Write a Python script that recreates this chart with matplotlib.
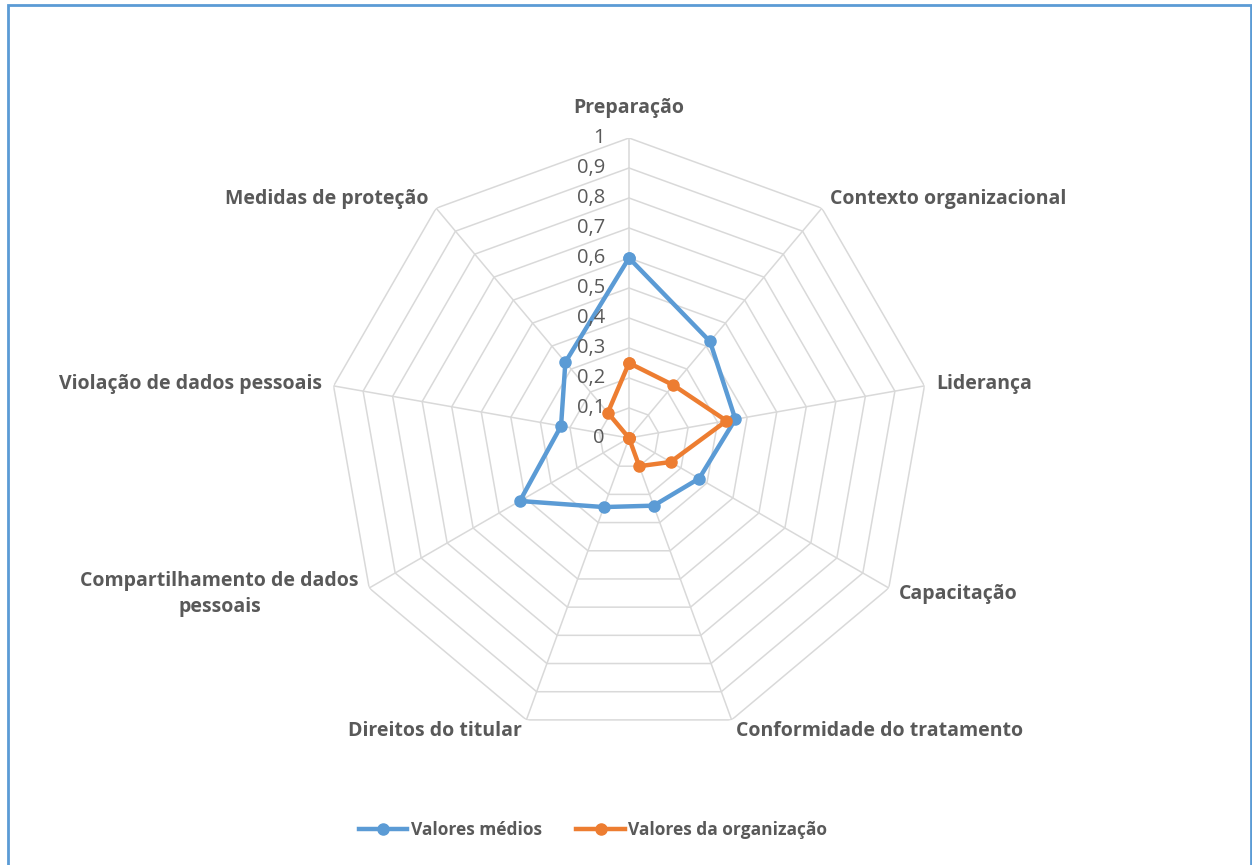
import numpy as np
import matplotlib.pyplot as plt
from matplotlib.patches import Rectangle

categories = ['Preparação', 'Contexto organizacional', 'Liderança', 'Capacitação',
              'Conformidade do tratamento', 'Direitos do titular',
              'Compartilhamento de dados\npessoais', 'Violação de dados pessoais',
              'Medidas de proteção']
valores_medios = [0.60, 0.42, 0.36, 0.27, 0.24, 0.245, 0.42, 0.23, 0.33]
valores_org = [0.25, 0.23, 0.33, 0.16, 0.10, 0.0, 0.0, 0.0, 0.11]
levels = [0, 0.1, 0.2, 0.3, 0.4, 0.5, 0.6, 0.7, 0.8, 0.9, 1.0]
level_labels = ['0', '0,1', '0,2', '0,3', '0,4', '0,5', '0,6', '0,7', '0,8', '0,9', '1']

BLUE = '#5b9bd5'
ORANGE = '#ed7d31'
GRID = '#d9d9d9'
TXT = '#595959'

plt.rcParams['font.family'] = ['Open Sans', 'DejaVu Sans']

fig = plt.figure(figsize=(12.52, 8.65), dpi=100)
ax = fig.add_axes([329 / 1252, 127 / 865, 600 / 1252, 600 / 865], projection='polar')
ax.set_theta_zero_location('N')
ax.set_theta_direction(-1)
ax.set_ylim(0, 1)
ax.grid(False)
ax.set_xticks([])
ax.set_yticks([])
ax.spines['polar'].set_visible(False)
ax.patch.set_alpha(0)

n = len(categories)
theta = np.linspace(0, 2 * np.pi, n, endpoint=False)
theta_c = np.append(theta, theta[0])

# polygon grid
for lv in levels[1:]:
    ax.plot(theta_c, [lv] * (n + 1), color=GRID, lw=1.1, zorder=1)
for t in theta:
    ax.plot([t, t], [0, 1], color=GRID, lw=1.1, zorder=1)

# radial tick labels
for lv, lab in zip(levels, level_labels):
    ax.annotate(lab, xy=(0, lv), xytext=(-24, 0), textcoords='offset pixels',
                ha='right', va='center', fontsize=14.5, color=TXT, zorder=5)

# series
vm = valores_medios + valores_medios[:1]
vo = valores_org + valores_org[:1]
ax.plot(theta_c, vm, color=BLUE, lw=3.2, marker='o', ms=8, zorder=3,
        label='Valores médios', solid_joinstyle='round')
ax.plot(theta_c, vo, color=ORANGE, lw=3.2, marker='o', ms=8, zorder=4,
        label='Valores da organização', solid_joinstyle='round')

# category labels
for t, cat in zip(theta, categories):
    deg = np.degrees(t)
    if deg < 1:
        ax.text(t, 1.1, cat, ha='center', va='center', fontsize=14,
                fontweight='bold', color=TXT)
    else:
        ha = 'left' if deg < 180 else 'right'
        ax.text(t, 1.04, cat, ha=ha, va='center', fontsize=14,
                fontweight='bold', color=TXT, multialignment='center',
                linespacing=1.45)

fig.legend(loc='center', bbox_to_anchor=(593 / 1252, 1 - 830 / 865), ncol=2, frameon=False,
           prop={'weight': 'bold', 'size': 12.5}, labelcolor=TXT,
           handlelength=2.8, columnspacing=2.0, handletextpad=0.2)

fig.patches.append(Rectangle((8 / 1252, -0.05), 1243 / 1252, 1 - 5 / 865 + 0.05,
                             transform=fig.transFigure, fill=False,
                             edgecolor=BLUE, lw=2))

fig.savefig('out.png', dpi=100)
